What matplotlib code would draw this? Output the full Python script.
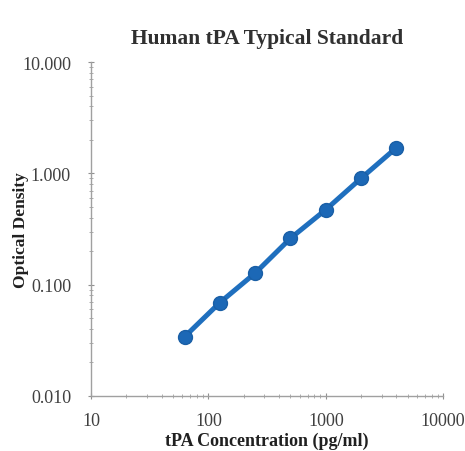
import matplotlib
matplotlib.use("Agg")
import matplotlib.pyplot as plt
from matplotlib.ticker import LogLocator, FixedLocator, NullFormatter

concentration = [62.5, 125, 250, 500, 1000, 2000, 4000]
optical_density = [0.034, 0.069, 0.127, 0.261, 0.472, 0.904, 1.70]
x_ticks = [10, 100, 1000, 10000]
x_tick_labels = ["10", "100", "1000", "10000"]
y_ticks = [0.01, 0.1, 1, 10]
y_tick_labels = ["0.010", "0.100", "1.000", "10.000"]

plt.rcParams['font.family'] = ['Liberation Serif', 'DejaVu Serif']

fig = plt.figure(figsize=(4.65, 4.52), dpi=100)
ax = fig.add_axes([0.196, 0.1217, 0.757, 0.7389])

ax.plot(concentration, optical_density, color="#1F6FBE", lw=3.6,
        marker="o", markersize=10, markerfacecolor="#1C68B6",
        markeredgecolor="#1A5FA6", markeredgewidth=1)

ax.set_xscale("log")
ax.set_yscale("log")
ax.set_xlim(10, 10000)
ax.set_ylim(0.01, 10)

ax.xaxis.set_major_locator(FixedLocator(x_ticks))
ax.set_xticklabels(x_tick_labels)
ax.yaxis.set_major_locator(FixedLocator(y_ticks))
ax.set_yticklabels(y_tick_labels)
ax.xaxis.set_minor_locator(LogLocator(base=10, subs=range(2, 10)))
ax.yaxis.set_minor_locator(LogLocator(base=10, subs=range(2, 10)))
ax.xaxis.set_minor_formatter(NullFormatter())
ax.yaxis.set_minor_formatter(NullFormatter())

for s in ["top", "right"]:
    ax.spines[s].set_visible(False)
for s in ["left", "bottom"]:
    ax.spines[s].set_color("#A0A0A0")
    ax.spines[s].set_linewidth(1.0)

ax.tick_params(which="major", direction="inout", length=5, width=0.8,
               color="#909090", labelsize=13, labelcolor="#404040")
ax.tick_params(axis="y", which="major", pad=12)
ax.tick_params(axis="x", which="major", pad=9)
ax.tick_params(which="minor", direction="inout", length=3, width=0.6,
               color="#A0A0A0")

ax.set_title("Human tPA Typical Standard", fontsize=15.5, fontweight="bold",
             color="#303030", pad=14)
ax.set_xlabel("tPA Concentration (pg/ml)", fontsize=13, fontweight="bold",
              color="#202020")
ax.xaxis.set_label_coords(0.5, -0.108)
ax.set_ylabel("Optical Density", fontsize=12.5, fontweight="bold",
              color="#202020")
ax.yaxis.set_label_coords(-0.176, 0.5)

fig.savefig("out.png", dpi=100, facecolor="white")
